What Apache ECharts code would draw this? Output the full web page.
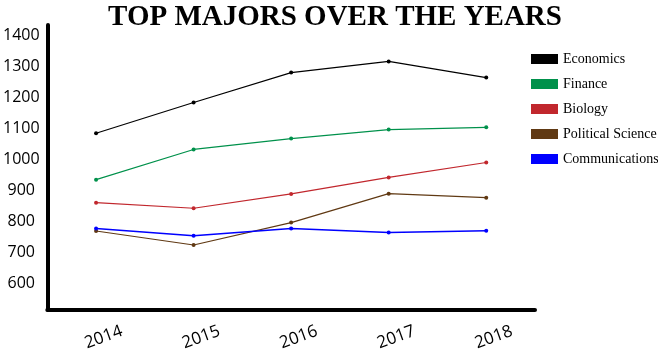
<!DOCTYPE html>
<html>
<head>
<meta charset="utf-8">
<script src="https://cdn.jsdelivr.net/npm/echarts@6/dist/echarts.min.js"></script>
<style>html,body{margin:0;padding:0;background:#fff;}#c{width:658px;height:355px;}</style>
</head>
<body>
<div id="c"></div>
<script>
const years = ['2014', '2015', '2016', '2017', '2018'];
const yTicks = [600, 700, 800, 900, 1000, 1100, 1200, 1300, 1400];
const economics = [1084, 1183, 1279, 1315, 1263];
const finance = [935, 1032, 1067, 1096, 1103];
const biology = [861, 843, 889, 942, 990];
const politicalScience = [770, 725, 797, 890, 877];
const communications = [778, 755, 778, 765, 771];

const seriesNames = ['Economics', 'Finance', 'Biology', 'Political Science', 'Communications'];
const seriesData = [economics, finance, biology, politicalScience, communications];
const colors = ['#000000', '#00914b', '#c1272d', '#603913', '#0000ff'];
const widths = [1.2, 1.2, 1.2, 1.2, 1.5];

const chart = echarts.init(document.getElementById('c'), null, {renderer: 'canvas'});
chart.setOption({
  animation: false,
  title: {
    text: 'TOP MAJORS OVER THE YEARS',
    left: 330, textAlign: 'center', top: -2,
    textStyle: {fontFamily: 'Liberation Serif', fontWeight: 'bold', fontSize: 29, color: '#000'}
  },
  legend: {
    orient: 'vertical', left: 531, top: 52, padding: 0,
    itemWidth: 27, itemHeight: 10, itemGap: 11,
    icon: 'rect',
    data: seriesNames,
    textStyle: {fontFamily: 'Liberation Serif', fontSize: 14, color: '#000'}
  },
  grid: {left: 45, right: 123, top: 25, bottom: 45},
  xAxis: {
    type: 'category', data: years, boundaryGap: true,
    axisLine: {lineStyle: {color: '#000', width: 4}},
    axisTick: {show: false},
    axisLabel: {
      rotate: 20, align: 'center', verticalAlign: 'middle', margin: 30,
      padding: [0, 0, 0, 16],
      fontFamily: 'Open Sans', fontSize: 17, color: '#000'
    },
    splitLine: {show: false}
  },
  yAxis: {
    type: 'value', min: 516, max: 1432,
    axisLine: {show: true, lineStyle: {color: '#000', width: 4}},
    axisTick: {show: false},
    splitLine: {show: false},
    axisLabel: {
      customValues: yTicks,
      formatter: v => String(v),
      align: 'center', margin: 26,
      fontFamily: 'Open Sans', fontSize: 16, color: '#000'
    }
  },
  series: seriesNames.map((n, i) => ({
    name: n, type: 'line', data: seriesData[i],
    symbol: 'circle', symbolSize: 4, showSymbol: true,
    itemStyle: {color: colors[i]},
    lineStyle: {color: colors[i], width: widths[i]}
  }))
});
</script>
</body>
</html>
